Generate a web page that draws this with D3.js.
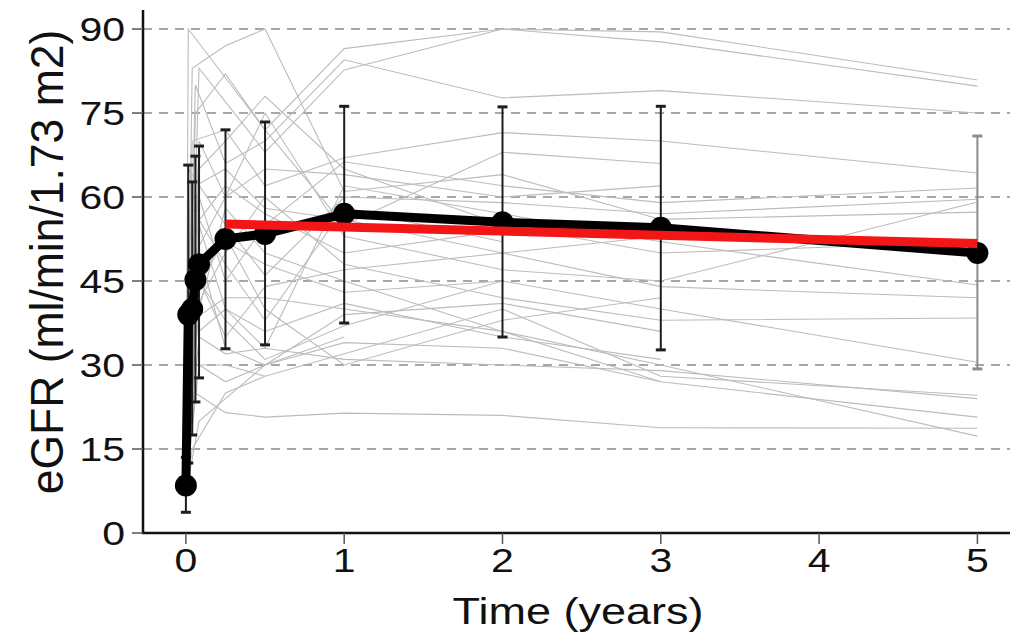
<!DOCTYPE html>
<html>
<head>
<meta charset="utf-8">
<script src="https://cdn.jsdelivr.net/npm/d3@7"></script>
<style>
  html, body { margin: 0; padding: 0; background: #fff; }
  svg text { font-family: 'Liberation Sans', Arial, sans-serif; fill: #111; }
</style>
</head>
<body>
<div class="graphe"></div>
<script>
// visit times (years) for the individual patient curves
var visites = [0, 0.015, 0.04, 0.06, 0.083, 0.25, 0.5, 1, 2, 3, 5]

// one row per patient, eGFR at each visit (null = no measure)
var patients = [
  [8, 90, null, null, null, null, 72, 86.5, 90, 89.5, 80.9],
  [10, null, 83, null, null, 87, 90, 61, 64, 56, 57.3],
  [6, null, null, null, 83, 77, 68, 82.7, 90, 87.7, 79.8],
  [12, null, null, 80, null, 66, 70, 84.5, 77.7, 79, 75],
  [9, null, 70, null, null, 72, 62, 67, 71.5, 70, 64.3],
  [5, null, null, null, 60, 45, 55, 66.3, 62, 59, 61.6],
  [14, 65, null, null, null, 55, 46, 60, 59, 57, 59.6],
  [7, null, null, 50, null, 60, 75, 53, 47, 45, 59.1],
  [11, null, null, null, 55, 40, 33, 62, 57, 52, 44.3],
  [8, null, 48, null, null, 35, 44, 47, 50, 44, 42],
  [6, null, null, 40, null, 50, 60, 48, 42, 38, 38.4],
  [13, null, null, null, 45, 38, 31, 37, 45, 40, 30.5],
  [9, 30, null, null, null, 30, 28, 32, 40, 28, 24.6],
  [10, null, null, null, 35, 32, 33, 31, 30, 29, 24],
  [7, null, null, 25, null, 21.5, 20.7, 21.4, 21, 18.8, 18.7],
  [12, null, null, null, 40, 58, 50, 45, 36, 27, 20.7],
  [8, null, 38, null, null, 42, 42, 40, 36, 30, 17.3],
  [10, null, null, null, 65, 70, 78, 65, 55, 50, 52],
  [9, null, null, 75, null, 82, 72, 55, 68, 66, null],
  [6, null, null, null, 70, 60, 65, 64, 60, 62, null],
  [11, null, 58, null, null, 48, 38, 58, 52, null, null],
  [7, null, null, null, 50, 33, 30, 39, 41, 36, null],
  [13, null, null, 55, null, 62, 57, 50, 54, null, null],
  [8, null, null, null, 30, 27, 30, 34, 33, 27, null],
  [10, 45, null, null, null, 52, 48, 43, 45, null, null],
  [6, null, null, null, 44, 53, 40, 30, 38, 42, null],
  [9, null, 35, null, null, 40, 36, 41, 35, 31, null],
  [12, null, null, 62, null, 65, 58, 56, 50, 53, null],
  [7, null, null, null, 20, 24, 30, 35, null, null, null],
  [8, null, 15, null, null, 25, 28, null, null, null, null]
]

// mean curve with its error bars
var moyTemps = [0, 0.015, 0.04, 0.06, 0.083, 0.25, 0.5, 1, 2, 3, 5]
var moyValeurs = [8.5, 39, 40, 45.2, 48, 52.5, 53.4, 57, 55.5, 54.5, 50]
var moyBas = [3.7, 12.5, 17.5, 23.4, 27.7, 32.9, 33.6, 37.5, 35, 32.7, 29.3]
var moyHaut = [13.5, 65.7, 62.7, 67.3, 69.1, 72, 73.4, 76.2, 76.1, 76.2, 70.9]

// fitted regression line
var regTemps = [0.25, 5]
var regValeurs = [55.2, 51.7]

var xTicks = [0, 1, 2, 3, 4, 5]
var yTicks = [0, 15, 30, 45, 60, 75, 90]

;(function () {
  var W = 1010
  var H = 635

  var svg = d3.select('.graphe').append('svg')
    .attr('width', W)
    .attr('height', H)

  var x = d3.scaleLinear().domain([-0.271, 5.206]).range([143, 1010])
  var y = d3.scaleLinear().domain([0, 93.4]).range([533, 10])

  // dashed grid
  svg.append('g').selectAll('line')
    .data(yTicks.filter(function (d) { return d > 0 }))
    .enter().append('line')
    .attr('x1', 143).attr('x2', W)
    .attr('y1', function (d) { return y(d) })
    .attr('y2', function (d) { return y(d) })
    .attr('stroke', '#8a8a8a')
    .attr('stroke-width', 1.6)
    .attr('stroke-dasharray', '9,7')

  // patient curves
  var ligne = d3.line()
    .x(function (d) { return x(d[0]) })
    .y(function (d) { return y(d[1]) })

  svg.append('g').selectAll('path')
    .data(patients.map(function (p) {
      return p.map(function (v, i) { return [visites[i], v] })
        .filter(function (d) { return d[1] !== null })
    }))
    .enter().append('path')
    .attr('d', ligne)
    .attr('fill', 'none')
    .attr('stroke', '#bcbcbc')
    .attr('stroke-width', 1.1)

  // error bars
  var barres = svg.append('g').selectAll('g')
    .data(moyTemps.map(function (t, i) { return { t: t, bas: moyBas[i], haut: moyHaut[i] } }))
    .enter().append('g')
    .attr('stroke', function (d) { return d.t === 5 ? '#8c8c8c' : '#1e1e1e' })
    .attr('stroke-width', 2)

  barres.append('line')
    .attr('x1', function (d) { return x(d.t) })
    .attr('x2', function (d) { return x(d.t) })
    .attr('y1', function (d) { return y(d.bas) })
    .attr('y2', function (d) { return y(d.haut) })

  ;['bas', 'haut'].forEach(function (k) {
    barres.append('line')
      .attr('x1', function (d) { return x(d.t) - 5 })
      .attr('x2', function (d) { return x(d.t) + 5 })
      .attr('y1', function (d) { return y(d[k]) })
      .attr('y2', function (d) { return y(d[k]) })
      .attr('stroke-width', 3)
  })

  // mean curve
  var moyenne = moyTemps.map(function (t, i) { return [t, moyValeurs[i]] })
  svg.append('path')
    .datum(moyenne)
    .attr('d', ligne)
    .attr('fill', 'none')
    .attr('stroke', '#000')
    .attr('stroke-width', 9)
    .attr('stroke-linejoin', 'round')

  svg.append('g').selectAll('circle')
    .data(moyenne)
    .enter().append('circle')
    .attr('cx', function (d) { return x(d[0]) })
    .attr('cy', function (d) { return y(d[1]) })
    .attr('r', 11)
    .attr('fill', '#000')

  // regression
  svg.append('path')
    .datum(regTemps.map(function (t, i) { return [t, regValeurs[i]] }))
    .attr('d', ligne)
    .attr('fill', 'none')
    .attr('stroke', '#f21616')
    .attr('stroke-width', 9)

  // axes
  var axe = svg.append('g').attr('stroke', '#111')
  axe.append('line')
    .attr('x1', 143).attr('x2', 143).attr('y1', 10).attr('y2', 534)
    .attr('stroke-width', 2.5)
  axe.append('line')
    .attr('x1', 142).attr('x2', W).attr('y1', 533).attr('y2', 533)
    .attr('stroke-width', 2.5)

  axe.selectAll('.ty').data(yTicks).enter().append('line')
    .attr('x1', 132).attr('x2', 143)
    .attr('y1', function (d) { return y(d) })
    .attr('y2', function (d) { return y(d) })
    .attr('stroke', '#555')
    .attr('stroke-width', 1.5)

  axe.selectAll('.tx').data(xTicks).enter().append('line')
    .attr('x1', function (d) { return x(d) })
    .attr('x2', function (d) { return x(d) })
    .attr('y1', 533).attr('y2', 544)
    .attr('stroke', '#555')
    .attr('stroke-width', 1.5)

  svg.append('g').selectAll('text')
    .data(yTicks).enter().append('text')
    .attr('transform', function (d) { return 'translate(125,' + (y(d) + 12) + ') scale(1,0.82)' })
    .attr('text-anchor', 'end')
    .attr('font-size', 41)
    .text(function (d) { return d })

  svg.append('g').selectAll('text')
    .data(xTicks).enter().append('text')
    .attr('transform', function (d) { return 'translate(' + x(d) + ',572) scale(1,0.82)' })
    .attr('text-anchor', 'middle')
    .attr('font-size', 41)
    .text(function (d) { return d })

  svg.append('text')
    .attr('transform', 'translate(578,624) scale(1,0.84)')
    .attr('text-anchor', 'middle')
    .attr('font-size', 45)
    .text('Time (years)')

  svg.append('text')
    .attr('transform', 'translate(63,262) rotate(-90) scale(0.967,1)')
    .attr('text-anchor', 'middle')
    .attr('font-size', 46)
    .text('eGFR (ml/min/1.73 m2)')
})()
</script>
</body>
</html>
